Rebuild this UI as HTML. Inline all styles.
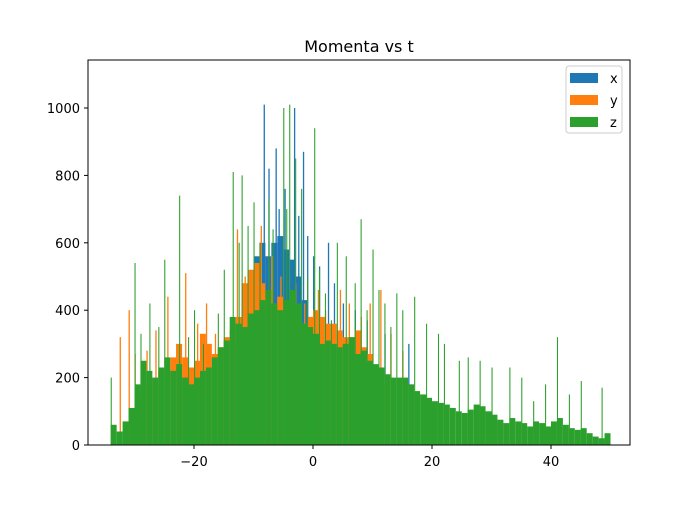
<!DOCTYPE html>
<html><head><meta charset="utf-8"><style>
body{margin:0;background:#fff;font-family:"Liberation Sans","DejaVu Sans",sans-serif}
svg text{font-family:"DejaVu Sans","Liberation Sans",sans-serif}
</style></head><body>
<svg id="chart" width="700" height="500">
<rect width="700" height="500" fill="#fff"/>
<text x="359" y="52" text-anchor="middle" font-size="16">Momenta vs t</text>
<g id="bars"></g>
<rect x="88" y="60" width="542" height="385" fill="none" stroke="#000" stroke-width="1"/>
<g id="axes"></g>
<g>
<rect x="566" y="66" width="56" height="67" rx="3" fill="#fff" fill-opacity="0.85" stroke="#ccc"/>
<rect x="570" y="73" width="28" height="10" fill="#1f77b4"/>
<text x="610" y="83" font-size="13">x</text>
<rect x="570" y="95" width="28" height="10" fill="#ff7f0e"/>
<text x="610" y="105" font-size="13">y</text>
<rect x="570" y="117" width="28" height="10" fill="#2ca02c"/>
<text x="610" y="127" font-size="13">z</text>
</g>
</svg>
<script>
const xStart = -14;
const xValues = [300,350,420,480,560,600,560,600,620,580,550,500,430,380,320,280,230,180];
const yStart = -31;
const yValues = [100,150,180,200,180,220,230,260,300,260,230,250,330,300,270,290,320,340,380,480,520,540,480,440,420,440,400,400,380,360,380,400,380,360,360,340,320,320,340,290,270,230,180];
const zStart = -34;
const zValues = [60,40,70,110,180,250,220,200,230,260,220,240,200,180,200,220,230,260,290,310,380,360,350,390,400,430,460,420,400,430,460,420,360,350,330,300,310,300,290,300,320,270,280,250,240,230,210,200,200,200,180,160,150,140,130,125,120,110,100,95,105,120,115,100,90,75,65,80,70,65,55,70,65,55,70,80,60,50,45,50,35,25,20,35];
const zSpikeT = [-34,-30,-29,-27.5,-26,-25,-22.5,-21,-20,-18.5,-16,-15,-13.5,-12.5,-12,-11,-10,-9,-7.5,-6.8,-5,-4.5,-4,-3,-2,-1,0.2,1,2,3,4,5.5,7,8,9,10,11,12,13,14,15,17,19,21,22,24.5,26,28,30,33,35,37,39,41,43,45,48.5];
const zSpikeV = [200,540,330,420,350,550,740,320,400,300,390,520,810,600,800,650,720,600,730,640,1000,700,1010,850,760,500,940,520,450,370,600,560,480,670,400,580,460,420,350,450,400,440,360,330,300,250,260,250,230,230,200,130,180,320,150,190,170];
const xSpikeT = [-8.3,-7.5,-6.3,-5.8,-4.8,-3.2,-2.5,-1.7,-1,0,1,2.5,3.5,5,7,9,12,16];
const xSpikeV = [1010,820,880,700,760,1000,680,870,620,560,530,600,480,420,400,370,330,300];
const ySpikeT = [-32.5,-31,-30,-28,-26.5,-24.5,-23,-21.5,-19.5,-18,-16.5,-15,-12.8,-11.5,-8.8,-7,-5.5,-3,-1.5,0.8,2,4.5,6,8,9.5,11.3,13,15];
const ySpikeV = [320,400,270,280,340,440,300,510,360,420,330,300,640,500,650,560,500,480,420,460,400,460,420,380,420,460,330,280];
const xTicks = [-20,0,20,40];
const yTicks = [0,200,400,600,800,1000];

const NS="http://www.w3.org/2000/svg";
const sx=v=>313+v*5.95;
const sy=v=>445-v*0.337;
const bars=document.getElementById('bars');
function bar(t,w,v,color,name){
  const r=document.createElementNS(NS,'rect');
  r.setAttribute('x',sx(t));r.setAttribute('width',w*5.95);
  r.setAttribute('y',sy(v));r.setAttribute('height',445-sy(v));
  r.setAttribute('fill',color);
  
  
  bars.appendChild(r);
}
xValues.forEach((v,i)=>bar(xStart+i,1,v,'#1f77b4','bar-x'));
xSpikeT.forEach((t,i)=>bar(t,0.22,xSpikeV[i],'#1f77b4','spike-x'));
yValues.forEach((v,i)=>bar(yStart+i,1,v,'#ff7f0e','bar-y'));
ySpikeT.forEach((t,i)=>bar(t,0.22,ySpikeV[i],'#ff7f0e','spike-y'));
zValues.forEach((v,i)=>bar(zStart+i,1,v,'#2ca02c','bar-z'));
zSpikeT.forEach((t,i)=>bar(t,0.18,zSpikeV[i],'#2ca02c','spike-z'));

const axes=document.getElementById('axes');
xTicks.forEach(t=>{
  const l=document.createElementNS(NS,'line');
  l.setAttribute('x1',sx(t));l.setAttribute('x2',sx(t));l.setAttribute('y1',445);l.setAttribute('y2',449);l.setAttribute('stroke','#000');
  
  
  axes.appendChild(l);
  const tx=document.createElementNS(NS,'text');
  tx.setAttribute('x',sx(t));tx.setAttribute('y',466);tx.setAttribute('text-anchor','middle');tx.setAttribute('font-size','13');
  tx.textContent=(t<0?'\u2212'+(-t):t);
  
  
  axes.appendChild(tx);
});
yTicks.forEach(t=>{
  const l=document.createElementNS(NS,'line');
  l.setAttribute('x1',84);l.setAttribute('x2',88);l.setAttribute('y1',sy(t));l.setAttribute('y2',sy(t));l.setAttribute('stroke','#000');
  
  
  axes.appendChild(l);
  const tx=document.createElementNS(NS,'text');
  tx.setAttribute('x',80);tx.setAttribute('y',sy(t)+5);tx.setAttribute('text-anchor','end');tx.setAttribute('font-size','13');
  tx.textContent=t;
  
  
  axes.appendChild(tx);
});
</script>
</body></html>
